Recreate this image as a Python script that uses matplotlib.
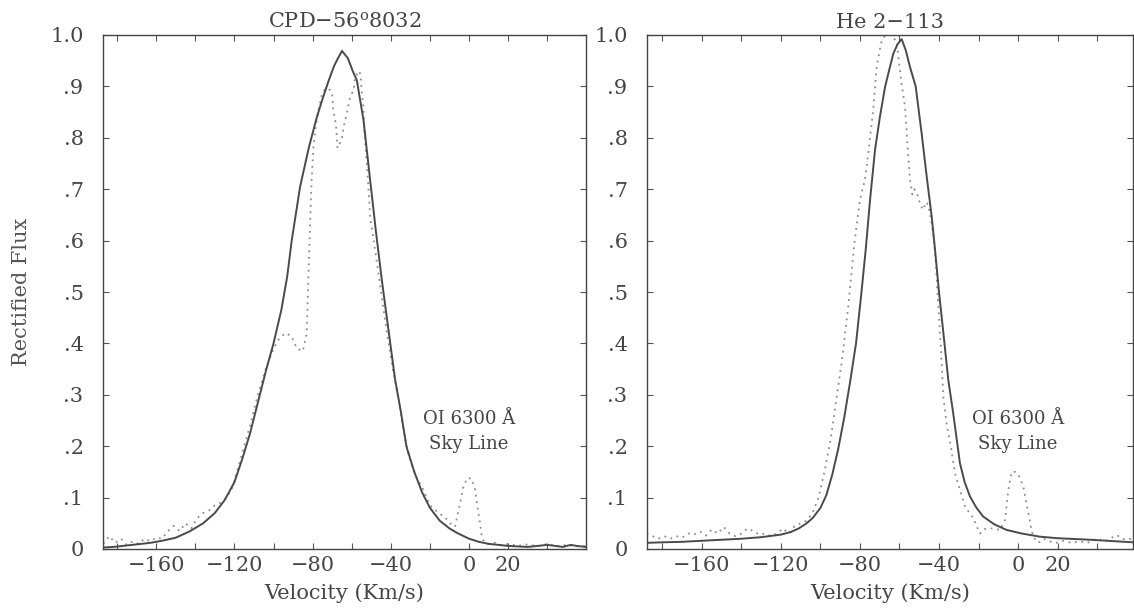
import matplotlib
matplotlib.use("Agg")
import matplotlib.pyplot as plt
import numpy as np

plt.rcParams['font.family'] = ['DejaVu Serif']
plt.rcParams['mathtext.fontset'] = 'dejavuserif'

# ---------------- data ----------------
titles = ["CPD\u221256$^{\\mathrm{o}}$8032", "He 2\u2212113"]

# CPD-56 8032 : model fit (solid)
cpd_fit_v = [-187, -182, -177, -170, -163, -157, -150, -143, -136, -130, -125, -120, -116,
             -112, -108, -104, -100, -96, -93, -90.7, -86.4, -82, -78, -75, -72, -69, -67,
             -65, -62, -59.5, -57.4, -54, -50.6, -47.7, -44.5, -41, -37.8, -35, -32, -28,
             -24, -20, -15, -10, -6, 0, 5, 10, 15, 20, 25, 30, 35, 40, 44, 48, 52, 55, 59.8]
cpd_fit_f = [0.003, 0.004, 0.006, 0.009, 0.012, 0.016, 0.022, 0.034, 0.05, 0.07, 0.095, 0.13,
             0.175, 0.225, 0.285, 0.345, 0.40, 0.465, 0.53, 0.60, 0.705, 0.78, 0.838, 0.875,
             0.909, 0.94, 0.955, 0.969, 0.955, 0.93, 0.912, 0.835, 0.718, 0.62, 0.52, 0.42,
             0.329, 0.27, 0.199, 0.15, 0.11, 0.08, 0.055, 0.04, 0.031, 0.02, 0.014, 0.01,
             0.008, 0.006, 0.005, 0.004, 0.006, 0.008, 0.006, 0.004, 0.008, 0.006, 0.004]

# CPD-56 8032 : observed (dotted)
cpd_obs_v = [-187, -184, -181, -178, -175, -172, -169, -166, -163, -160, -157, -154, -151,
             -148, -145, -142, -139, -136, -133, -130, -127, -124, -121, -118, -115, -112,
             -108, -104, -100, -97, -94, -91, -88, -85, -83, -82, -81.3, -80.5, -79.6, -78.7,
             -77, -75.3, -73.6, -71, -70, -69.4, -68.5, -67.8, -67.3, -66, -65, -64.2, -62.5,
             -60.8, -59, -58.3, -56, -55.4, -54.9, -54, -53.5, -52.3, -51.5, -50.6, -48, -45,
             -42, -39, -36, -33, -30, -27, -24, -20, -17, -14, -11.5, -9.7, -7.2, -4.6, -2.9,
             -0.9, 1.3, 3.1, 4.3, 5.6, 6.5, 8, 10, 13, 16, 20, 25, 30, 35, 40, 45, 50, 55, 59.8]
cpd_obs_f = [0.01, 0.025, 0.012, 0.02, 0.008, 0.015, 0.01, 0.02, 0.015, 0.022, 0.02, 0.035,
             0.045, 0.035, 0.05, 0.04, 0.06, 0.07, 0.075, 0.085, 0.09, 0.1, 0.12, 0.16, 0.2,
             0.24, 0.3, 0.35, 0.39, 0.41, 0.42, 0.415, 0.39, 0.385, 0.42, 0.55, 0.63, 0.72,
             0.78, 0.815, 0.854, 0.883, 0.896, 0.893, 0.883, 0.854, 0.835, 0.815, 0.78, 0.79,
             0.80, 0.82, 0.848, 0.88, 0.893, 0.919, 0.93, 0.916, 0.89, 0.86, 0.81, 0.75, 0.705,
             0.647, 0.58, 0.50, 0.42, 0.35, 0.29, 0.22, 0.17, 0.14, 0.12, 0.085, 0.075, 0.066,
             0.058, 0.05, 0.043, 0.089, 0.121, 0.138, 0.137, 0.115, 0.082, 0.05, 0.024, 0.012,
             0.01, 0.012, 0.008, 0.01, 0.006, 0.009, 0.005, 0.01, 0.006, 0.008, 0.005, 0.006]

# He 2-113 : model fit (solid)
he_fit_v = [-188, -180, -170, -160, -150, -140, -130, -120, -115, -111, -107, -104, -100, -97,
            -94, -91, -88, -85, -82, -79.5, -77.1, -74.9, -72.4, -69.9, -67.3, -65, -63.1,
            -61, -58.9, -56.8, -54.7, -51.8, -48.8, -46.2, -43.7, -42, -40, -37.5, -35.3,
            -32.8, -29.4, -27, -24.3, -21, -17.6, -12, -5.7, 2, 11.1, 20, 36.5, 58.2]
he_fit_f = [0.012, 0.013, 0.014, 0.016, 0.018, 0.02, 0.023, 0.028, 0.033, 0.04, 0.05, 0.06,
            0.08, 0.105, 0.145, 0.195, 0.255, 0.325, 0.40, 0.49, 0.582, 0.679, 0.776, 0.841,
            0.899, 0.935, 0.964, 0.982, 0.992, 0.97, 0.938, 0.90, 0.809, 0.724, 0.647, 0.582,
            0.50, 0.41, 0.329, 0.264, 0.167, 0.13, 0.102, 0.08, 0.063, 0.048, 0.037, 0.03,
            0.024, 0.021, 0.018, 0.013]

# He 2-113 : observed (dotted)
he_obs_v = [-188, -185, -182, -179, -176, -173, -170, -167, -164, -161, -158, -155, -152,
            -149, -146, -143, -140, -137, -134, -131, -128, -125, -122, -119, -116, -113,
            -110, -107, -104, -101, -98, -95, -92, -89, -86, -83, -82, -80, -77.5, -75.8,
            -73.3, -71.6, -69, -67, -65, -63, -61.4, -60.6, -59, -57.2, -56, -54.7, -53.5,
            -52.5, -51.3, -49.5, -48, -46.5, -45.4, -44, -42.5, -41.5, -40.8, -40, -39.2,
            -38.5, -37.8, -36, -34, -31.9, -29, -26.8, -24.5, -22.6, -21, -19.2, -17.5, -15.8,
            -12.5, -9.1, -6.6, -4.9, -3.2, -1.5, 0.2, 2.7, 5.2, 7.6, 10.3, 13, 15.9, 19.3, 23,
            27, 31, 35, 39.8, 44, 50, 54, 58.2]
he_obs_f = [0.03, 0.025, 0.02, 0.025, 0.02, 0.025, 0.022, 0.03, 0.028, 0.034, 0.026, 0.038,
            0.03, 0.043, 0.03, 0.025, 0.03, 0.04, 0.035, 0.028, 0.03, 0.025, 0.03, 0.04, 0.03,
            0.045, 0.05, 0.055, 0.07, 0.1, 0.15, 0.21, 0.29, 0.37, 0.47, 0.588, 0.62, 0.68,
            0.718, 0.77, 0.854, 0.938, 0.99, 1.0, 1.0, 0.995, 0.985, 0.958, 0.906, 0.861,
            0.789, 0.718, 0.69, 0.70, 0.695, 0.67, 0.66, 0.675, 0.669, 0.64, 0.60, 0.55, 0.50,
            0.45, 0.40, 0.35, 0.296, 0.24, 0.20, 0.147, 0.11, 0.082, 0.07, 0.06, 0.045, 0.03,
            0.038, 0.04, 0.04, 0.037, 0.056, 0.115, 0.15, 0.15, 0.145, 0.121, 0.07, 0.024,
            0.012, 0.02, 0.015, 0.012, 0.016, 0.012, 0.015, 0.012, 0.02, 0.015, 0.027, 0.018,
            0.02]

xlims = [(-187.2, 59.8), (-187.8, 58.2)]
xtick_vals = [-180, -160, -140, -120, -100, -80, -60, -40, -20, 0, 20, 40]
xtick_labels = ['', '\u2212160', '', '\u2212120', '', '\u221280', '', '\u221240', '', '0', '20', '']
ytick_vals = [0, 0.1, 0.2, 0.3, 0.4, 0.5, 0.6, 0.7, 0.8, 0.9, 1.0]
ytick_labels = ['0', '.1', '.2', '.3', '.4', '.5', '.6', '.7', '.8', '.9', '1.0']
sky_label = 'OI 6300 \u00c5\nSky Line'
xlabel = 'Velocity (Km/s)'
ylabel = 'Rectified Flux'

# ---------------- figure ----------------
W, H = 1134, 610
fig = plt.figure(figsize=(W / 100, H / 100), dpi=100)
ax1 = fig.add_axes([103 / W, 61 / H, 483 / W, 514 / H])
ax2 = fig.add_axes([647 / W, 61 / H, 486 / W, 514 / H])

txt_col = '#454545'
series = [(cpd_fit_v, cpd_fit_f, cpd_obs_v, cpd_obs_f), (he_fit_v, he_fit_f, he_obs_v, he_obs_f)]

for ax, (fv, ff, ov, of), title, xl in zip([ax1, ax2], series, titles, xlims):
    ax.plot(ov, of, color='#8c8c8c', lw=1.3, ls=(0, (1, 2.6)), solid_capstyle='round')
    ax.plot(fv, ff, color='#4a4a4a', lw=1.4)
    ax.set_xlim(*xl)
    ax.set_ylim(0, 1.0)
    ax.set_xticks(xtick_vals)
    ax.set_xticklabels(xtick_labels)
    ax.set_yticks(ytick_vals)
    ax.set_yticklabels(ytick_labels)
    ax.tick_params(axis='both', direction='in', top=True, right=True, length=4.5,
                   width=0.8, color='#555555', labelcolor=txt_col, labelsize=15)
    ax.tick_params(axis='x', pad=5)
    ax.tick_params(axis='y', pad=14)
    for s in ax.spines.values():
        s.set_color('#444444')
        s.set_linewidth(1.0)
    ax.set_title(title, fontsize=15, color=txt_col, pad=5)
    ax.set_xlabel(xlabel, fontsize=15, color=txt_col, labelpad=6)
    ax.text(0, 0.228, sky_label, ha='center', va='center', fontsize=13,
            color=txt_col, linespacing=1.5)

fig.text(22 / W, 0.521, ylabel, rotation=90, ha='center', va='center',
         fontsize=15, color='#555555')

fig.savefig('out.png', dpi=100)
